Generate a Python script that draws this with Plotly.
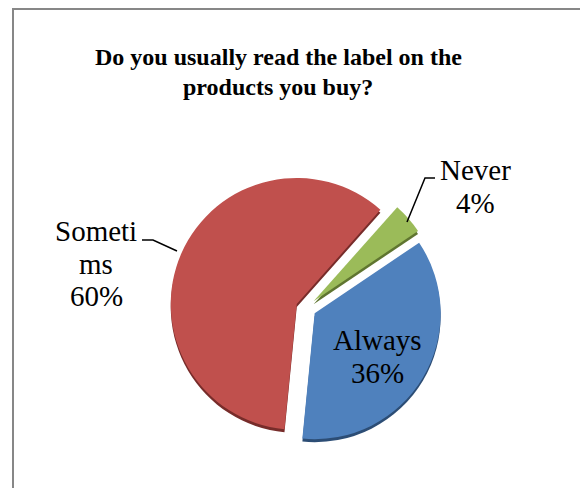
import plotly.graph_objects as go

# Survey answers, in clockwise order starting from the first slice
categories = ["Always", "Sometims", "Never"]
shares = [36, 60, 4]
label_lines = [["Always"], ["Someti", "ms"], ["Never"]]
title_lines = ["Do you usually read the label on the", "products you buy?"]

face_colors = ["#4F81BD", "#C0504D", "#9BBB59"]
side_colors = ["#2C4D75", "#772C2A", "#5F7530"]

W, H = 580, 488


def px(x, y):
    """Pixel position -> paper coordinates."""
    return x / W, 1 - y / H


# pie geometry (pixels)
cx, cy, r, pull = 306, 308, 126, 0.08
box = 2 * r * (1 + pull)


def domain(dy=0):
    x0, y0 = px(cx - box / 2, cy + dy + box / 2)
    x1, y1 = px(cx + box / 2, cy + dy - box / 2)
    return dict(x=[x0, x1], y=[y0, y1])


common = dict(
    labels=categories,
    values=shares,
    sort=False,
    direction="clockwise",
    rotation=56,
    pull=[pull] * len(shares),
    textinfo="none",
    hoverinfo="label+percent",
    showlegend=False,
)

fig = go.Figure()
# darker copy slightly lower gives the slices some thickness
fig.add_trace(go.Pie(domain=domain(3), marker=dict(colors=side_colors), **common))
fig.add_trace(go.Pie(domain=domain(0), marker=dict(colors=face_colors), **common))

annotations = []
SERIF = "Liberation Serif"
label_font = dict(family=SERIF, size=29, color="black")


def add_lines(lines, x, y_first, step, font, bold=False):
    for i, t in enumerate(lines):
        ax, ay = px(x, y_first + i * step)
        annotations.append(dict(text=f"<b>{t}</b>" if bold else t, x=ax, y=ay,
                                xref="paper", yref="paper",
                                xanchor="center", yanchor="middle", showarrow=False,
                                font=font))


# data labels: category name then its share
label_places = {
    "Always": (377, 340),
    "Sometims": (96, 231),
    "Never": (475, 170),
}
for cat, val, lines in zip(categories, shares, label_lines):
    x, y = label_places[cat]
    add_lines(lines + [f"{val}%"], x, y, 32.5, label_font)

# chart title
add_lines(title_lines, 278, 57, 30, dict(family=SERIF, size=24, color="black"), bold=True)

shapes = []
# chart area frame
fx0, fy0 = px(13, 9)
shapes.append(dict(type="rect", xref="paper", yref="paper", x0=fx0, y0=-0.1, x1=1.1, y1=fy0,
                   line=dict(color="#878787", width=2), fillcolor="rgba(0,0,0,0)"))


# leader lines
def leader(points):
    d = "M " + " L ".join(f"{px(x, y)[0]},{px(x, y)[1]}" for x, y in points)
    return dict(type="path", xref="paper", yref="paper", path=d,
                line=dict(color="black", width=1.5))


shapes.append(leader([(142, 240), (153, 240), (177, 251)]))
shapes.append(leader([(435, 178), (425, 178), (407, 222)]))

fig.update_layout(
    width=W,
    height=H,
    margin=dict(l=0, r=0, t=0, b=0),
    paper_bgcolor="white",
    plot_bgcolor="white",
    annotations=annotations,
    shapes=shapes,
)

fig.write_html("out.html")
